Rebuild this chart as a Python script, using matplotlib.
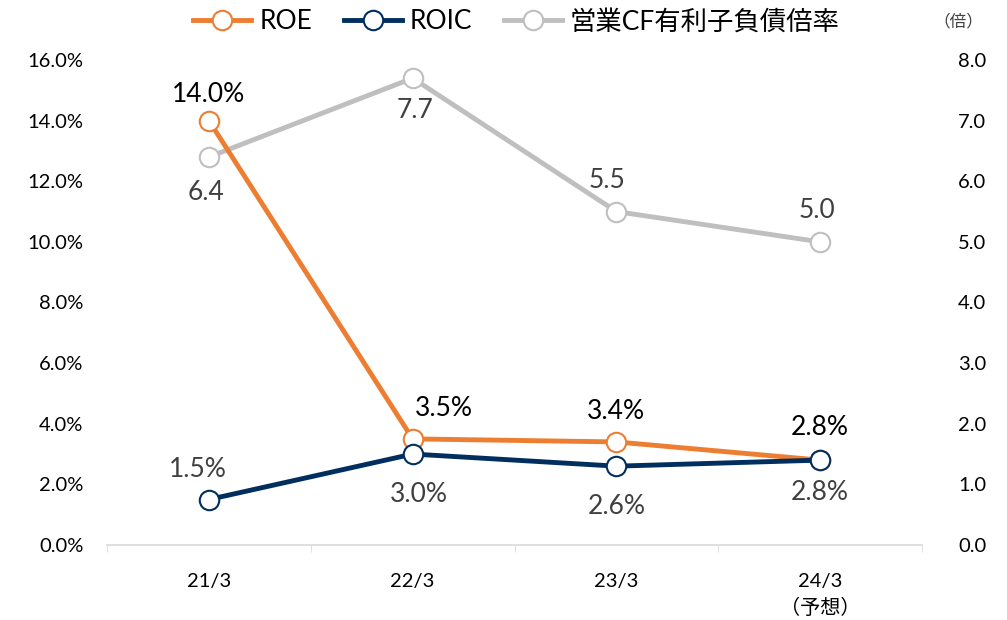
import matplotlib
matplotlib.use("Agg")
import matplotlib.pyplot as plt
from matplotlib.ticker import FuncFormatter, MultipleLocator

plt.rcParams['font.family'] = ['Lato', 'Noto Sans CJK JP', 'DejaVu Sans']

categories = ["21/3", "22/3", "23/3", "24/3\n（予想）"]
roe = [14.0, 3.5, 3.4, 2.8]
roic = [1.5, 3.0, 2.6, 2.8]
cf_ratio = [6.4, 7.7, 5.5, 5.0]

roe_color = "#ED7D31"
roic_color = "#002F5F"
cf_color = "#BFBFBF"

fig = plt.figure(figsize=(10.07, 6.2), dpi=100)
ax = fig.add_axes([0.1063, 0.121, 0.8093, 0.7822])
ax2 = ax.twinx()

x = list(range(len(categories)))
mk = dict(marker="o", markersize=14, markerfacecolor="white", markeredgewidth=1.5, lw=3.5)

l3, = ax2.plot(x, cf_ratio, color=cf_color, markeredgecolor=cf_color, label="営業CF有利子負債倍率", zorder=2, **mk)
l1, = ax.plot(x, roe, color=roe_color, markeredgecolor=roe_color, label="ROE", zorder=3, **mk)
l2, = ax.plot(x, roic, color=roic_color, markeredgecolor=roic_color, label="ROIC", zorder=3, **mk)

ax.set_zorder(ax2.get_zorder() + 1)
ax.patch.set_visible(False)

ax.set_xlim(-0.5, 3.5)
ax.set_ylim(0, 16)
ax2.set_ylim(0, 8)
ax.yaxis.set_major_locator(MultipleLocator(2))
ax2.yaxis.set_major_locator(MultipleLocator(1))
ax.yaxis.set_major_formatter(FuncFormatter(lambda v, p: f"{v:.1f}%"))
ax2.yaxis.set_major_formatter(FuncFormatter(lambda v, p: f"{v:.1f}"))

ax.set_xticks(x)
ax.set_xticklabels(categories, fontsize=14.5, linespacing=1.5)
ax.set_xticks([-0.5, 0.5, 1.5, 2.5, 3.5], minor=True)
ax.tick_params(axis="x", which="major", length=0, pad=20)
ax.tick_params(axis="x", which="minor", length=5, color="#D9D9D9", direction="out")
ax.tick_params(axis="y", length=0, labelsize=14.5, pad=17)
ax2.tick_params(axis="y", length=0, labelsize=14.5, pad=26)

for a in (ax, ax2):
    for s in a.spines.values():
        s.set_visible(False)
ax.spines["bottom"].set_visible(True)
ax.spines["bottom"].set_color("#D9D9D9")
ax.spines["bottom"].set_linewidth(1.2)

fs = 19
px = 0.72  # pixels to points at 100 dpi
# ROE labels above
roe_off = [(0, 26), (31, 30), (0, 30), (0, 33)]
for i, v in enumerate(roe):
    dx, dy = roe_off[i]
    ax.annotate(f"{v:.1f}%", (i, v), xytext=(dx * px, dy * px), textcoords="offset points",
                ha="center", va="center", fontsize=fs, color="black")
# ROIC labels
roic_off = [(-11, 30), (6, -40), (0, -40), (0, -32)]
for i, v in enumerate(roic):
    dx, dy = roic_off[i]
    ax.annotate(f"{v:.1f}%", (i, v), xytext=(dx * px, dy * px), textcoords="offset points",
                ha="center", va="center", fontsize=fs, color="#404040")
# CF labels
cf_off = [(-3, -35), (2, -32), (-9, 31), (-3, 31)]
for i, v in enumerate(cf_ratio):
    dx, dy = cf_off[i]
    ax2.annotate(f"{v:.1f}", (i, v), xytext=(dx * px, dy * px), textcoords="offset points",
                 ha="center", va="center", fontsize=fs, color="#404040")

fig.text(0.952, 0.965, "（倍）", fontsize=12, ha="center", va="center", color="#404040")

fig.legend(handles=[l1, l2, l3], loc="center", bbox_to_anchor=(0.513, 0.965), ncol=3,
           frameon=False, fontsize=19, handlelength=2.2, columnspacing=1.2, handletextpad=0.3)

fig.savefig("out.png", dpi=100)
